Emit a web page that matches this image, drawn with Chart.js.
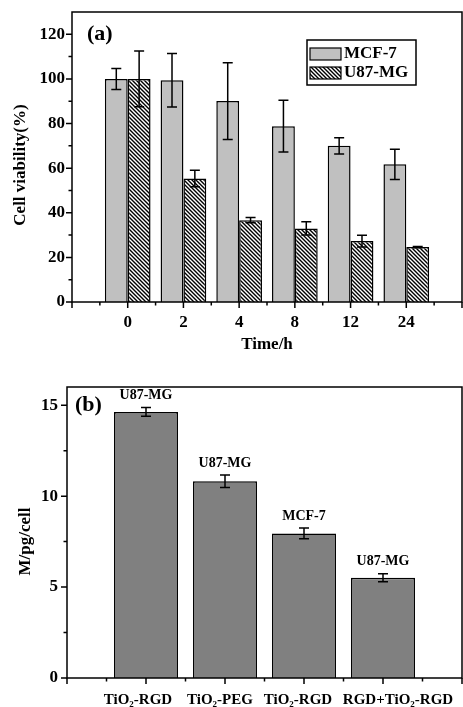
<!DOCTYPE html>
<html>
<head>
<meta charset="utf-8">
<script src="https://cdn.jsdelivr.net/npm/chart.js@4.4.0/dist/chart.umd.min.js"></script>
<style>
body{margin:0;background:#fff;width:463px;height:707px;overflow:hidden;position:relative}
.box{position:absolute;left:0;width:463px}
</style>
</head>
<body>
<div class="box" style="top:0;height:365px"><canvas id="chartA"></canvas></div>
<div class="box" style="top:370px;height:337px"><canvas id="chartB"></canvas></div>
<script>
// panel (a) - viability over time
const timeLabels = ['0', '2', '4', '8', '12', '24'];
const mcf7 = [100, 99.4, 90.1, 78.8, 70.0, 61.7];
const mcf7Err = [4.7, 12, 17.2, 11.6, 3.6, 6.8];
const u87 = [100, 55.4, 36.7, 33.0, 27.3, 24.6];
const u87Err = [12.5, 3.7, 1.2, 3.0, 2.6, 0.3];
const viabilityTicks = [0, 20, 40, 60, 80, 100, 120];

// panel (b) - uptake per cell
const particleLabels = ['TiO₂-RGD', 'TiO₂-PEG', 'TiO₂-RGD', 'RGD+TiO₂-RGD'];
const cellLines = ['U87-MG', 'U87-MG', 'MCF-7', 'U87-MG'];
const uptake = [14.63, 10.82, 7.95, 5.51];
const uptakeErr = [0.24, 0.34, 0.3, 0.22];
const uptakeTicks = [0, 5, 10, 15];

const serif = "'Liberation Serif', 'Times New Roman', serif";
const pad = arr => [null, ...arr, null];

function hatch(){
    const c = document.createElement('canvas');
    c.width = 4; c.height = 4;
    const g = c.getContext('2d');
    g.fillStyle = '#fff';
    g.fillRect(0, 0, 4, 4);
    g.strokeStyle = '#000';
    g.lineWidth = 1.4;
    g.beginPath();
    g.moveTo(0, 0); g.lineTo(4, 4);
    g.moveTo(-1, 3); g.lineTo(1, 5);
    g.moveTo(3, -1); g.lineTo(5, 1);
    g.stroke();
    return g.createPattern(c, 'repeat');
}

// frame, tick marks, y title and panel tag
const frame = {
    id: 'frame',
    afterDraw(chart, args, opts){
        const { ctx, chartArea: { left, top, right, bottom }, scales: { x, y } } = chart;
        const n = chart.data.labels.length;
        ctx.save();
        ctx.strokeStyle = '#000';
        ctx.lineWidth = 1.5;
        ctx.strokeRect(left, top, right - left, bottom - top);
        ctx.beginPath();
        opts.major.forEach(v => {
            const py = y.getPixelForValue(v);
            ctx.moveTo(left - 6, py); ctx.lineTo(left, py);
        });
        for (let i = 0; i < opts.major.length - 1; i++){
            const py = y.getPixelForValue((opts.major[i] + opts.major[i + 1]) / 2);
            ctx.moveTo(left - 3.5, py); ctx.lineTo(left, py);
        }
        for (let i = 0; i < n; i++){
            const px = x.getPixelForTick(i);
            ctx.moveTo(px, bottom); ctx.lineTo(px, bottom + 6);
            if (i < n - 1){
                const mx = (px + x.getPixelForTick(i + 1)) / 2;
                ctx.moveTo(mx, bottom); ctx.lineTo(mx, bottom + 3.5);
            }
        }
        ctx.stroke();
        ctx.fillStyle = '#000';
        ctx.textBaseline = 'middle';
        if (opts.labelShift){
            ctx.font = 'bold 15px ' + serif;
            ctx.textAlign = 'center';
            chart.data.labels.forEach((t, i) => {
                ctx.fillText(t, x.getPixelForTick(i) + opts.labelShift[i], bottom + opts.labelDy);
            });
        }
        ctx.textAlign = 'left';
        ctx.font = 'bold 22px ' + serif;
        ctx.fillText(opts.tag, left + opts.dx, top + opts.dy);
        ctx.font = 'bold 17px ' + serif;
        ctx.textAlign = 'center';
        ctx.translate(opts.tx, (top + bottom) / 2 + opts.tdy);
        ctx.rotate(-Math.PI / 2);
        ctx.fillText(opts.title, 0, 0);
        ctx.restore();
    }
};

const errorBars = {
    id: 'errorBars',
    afterDatasetsDraw(chart){
        const { ctx, scales: { y } } = chart;
        ctx.save();
        ctx.strokeStyle = '#000';
        ctx.fillStyle = '#000';
        ctx.lineWidth = 1.5;
        chart.data.datasets.forEach((ds, di) => {
            chart.getDatasetMeta(di).data.forEach((bar, i) => {
                const v = ds.data[i], e = ds.errors[i];
                if (v == null) return;
                const hi = y.getPixelForValue(v + e), lo = y.getPixelForValue(v - e);
                ctx.beginPath();
                ctx.moveTo(bar.x, hi); ctx.lineTo(bar.x, lo);
                ctx.moveTo(bar.x - 5, hi); ctx.lineTo(bar.x + 5, hi);
                ctx.moveTo(bar.x - 5, lo); ctx.lineTo(bar.x + 5, lo);
                ctx.stroke();
                if (ds.tags){
                    ctx.font = 'bold 14px ' + serif;
                    ctx.textAlign = 'center';
                    ctx.textBaseline = 'bottom';
                    ctx.fillText(ds.tags[i], bar.x, hi - 5);
                }
            });
        });
        ctx.restore();
    }
};

const boxLegend = {
    id: 'boxLegend',
    afterDraw(chart, args, opts){
        const { ctx } = chart;
        ctx.save();
        ctx.strokeStyle = '#000';
        ctx.lineWidth = 1.5;
        ctx.strokeRect(opts.x, opts.y, opts.w, opts.h);
        ctx.font = 'bold 17px ' + serif;
        ctx.textBaseline = 'middle';
        chart.data.datasets.forEach((ds, i) => {
            const ry = opts.y + 8 + i * 19;
            ctx.fillStyle = ds.backgroundColor;
            ctx.fillRect(opts.x + 3, ry, 31, 12);
            ctx.lineWidth = 1.2;
            ctx.strokeRect(opts.x + 3, ry, 31, 12);
            ctx.fillStyle = '#000';
            ctx.fillText(ds.label, opts.x + 37, ry + 6);
        });
        ctx.restore();
    }
};

const tickFont = { family: serif, size: 17, weight: 'bold' };
const noGrid = { display: false, drawTicks: false };

function fixX(h){
    return s => { s.height = h; s.paddingLeft = 0; s.paddingRight = 0; };
}
function fixY(w){
    return s => { s.width = w; s.paddingTop = 0; s.paddingBottom = 0; };
}

new Chart(document.getElementById('chartA'), {
    type: 'bar',
    data: {
        labels: pad(timeLabels).map(v => v == null ? '' : v),
        datasets: [{
            label: 'MCF-7',
            data: pad(mcf7),
            errors: pad(mcf7Err),
            backgroundColor: '#c0c0c0',
            borderColor: '#000',
            borderWidth: 1.5,
            categoryPercentage: 0.82,
            barPercentage: 1
        }, {
            label: 'U87-MG',
            data: pad(u87),
            errors: pad(u87Err),
            backgroundColor: hatch(),
            borderColor: '#000',
            borderWidth: 1.5,
            categoryPercentage: 0.82,
            barPercentage: 1
        }]
    },
    options: {
        responsive: true,
        maintainAspectRatio: false,
        animation: false,
        layout: { padding: { top: 12, right: 1, left: 0, bottom: 0 } },
        scales: {
            x: {
                offset: false,
                grid: noGrid,
                border: { display: false },
                ticks: { font: tickFont, color: '#000', padding: 10, autoSkip: false, maxRotation: 0 },
                title: { display: true, text: 'Time/h', font: tickFont, color: '#000', padding: { top: 0, bottom: 10 } },
                afterFit: fixX(63)
            },
            y: {
                min: 0,
                max: 130,
                grid: noGrid,
                border: { display: false },
                ticks: { font: tickFont, color: '#000', padding: 7 },
                afterBuildTicks(s){ s.ticks = viabilityTicks.map(v => ({ value: v })); },
                afterFit: fixY(72)
            }
        },
        plugins: {
            legend: { display: false },
            tooltip: { enabled: false },
            frame: { major: viabilityTicks, tag: '(a)', dx: 15, dy: 22, title: 'Cell viability(%)', tx: 21, tdy: 8 },
            boxLegend: { x: 307, y: 40, w: 109, h: 45 }
        }
    },
    plugins: [frame, errorBars, boxLegend]
});

new Chart(document.getElementById('chartB'), {
    type: 'bar',
    data: {
        labels: pad(particleLabels).map(v => v == null ? '' : v),
        datasets: [{
            label: 'M',
            data: pad(uptake),
            errors: pad(uptakeErr),
            tags: pad(cellLines),
            backgroundColor: '#808080',
            borderColor: '#000',
            borderWidth: 1.5,
            categoryPercentage: 0.81,
            barPercentage: 1
        }]
    },
    options: {
        responsive: true,
        maintainAspectRatio: false,
        animation: false,
        layout: { padding: { top: 17, right: 1, left: 0, bottom: 0 } },
        scales: {
            x: {
                offset: false,
                grid: noGrid,
                border: { display: false },
                ticks: { display: false },
                afterFit: fixX(29)
            },
            y: {
                min: 0,
                max: 16,
                grid: noGrid,
                border: { display: false },
                ticks: { font: tickFont, color: '#000', padding: 9 },
                afterBuildTicks(s){ s.ticks = uptakeTicks.map(v => ({ value: v })); },
                afterFit: fixY(67)
            }
        },
        plugins: {
            legend: { display: false },
            tooltip: { enabled: false },
            frame: {
                major: uptakeTicks, tag: '(b)', dx: 8, dy: 18, title: 'M/pg/cell', tx: 26, tdy: 9,
                labelShift: [0, -8, -5, -6, 15, 0], labelDy: 22
            }
        }
    },
    plugins: [frame, errorBars]
});
</script>
</body>
</html>
